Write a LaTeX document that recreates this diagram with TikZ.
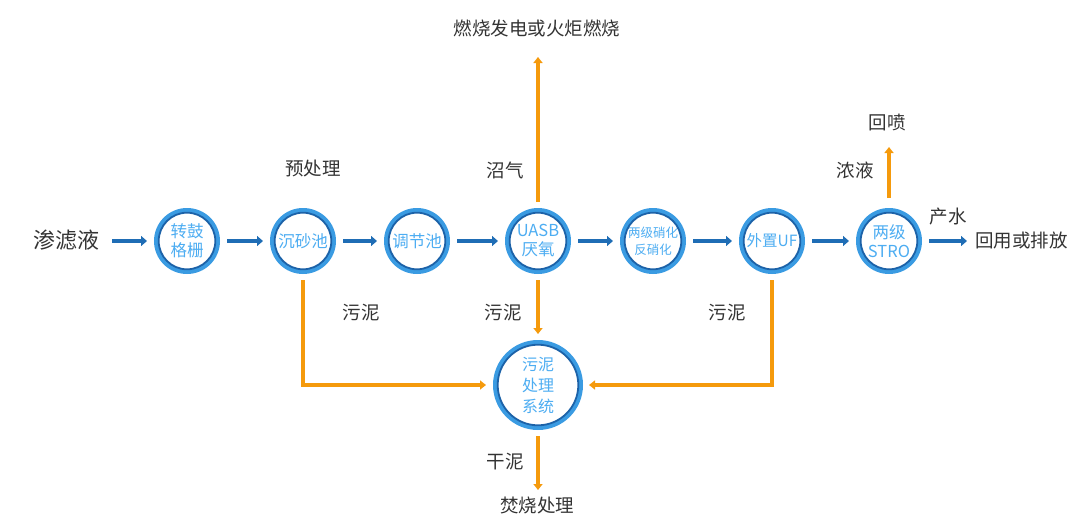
\documentclass[tikz,border=0pt]{standalone}
\usepackage{fontspec}
\setmainfont{Noto Sans CJK SC}
\usetikzlibrary{arrows.meta,calc}
\definecolor{ringlight}{HTML}{3A9BE2}
\definecolor{ringdark}{HTML}{1C62A8}
\definecolor{ntext}{HTML}{4DADF2}
\definecolor{flowblue}{HTML}{1F6DB5}
\definecolor{flowor}{HTML}{F59A0C}
\definecolor{lbl}{HTML}{333333}
\begin{document}
\begin{tikzpicture}[x=1pt,y=-1pt,
  ring/.style={circle,draw=ringlight,line width=4.5pt,fill=white,minimum size=61.5pt,inner sep=0pt,
    text=ntext,align=center,font=\fontsize{16.5}{19}\selectfont},
  bigring/.style={ring,minimum size=85.5pt,font=\fontsize{16}{21}\selectfont},
  lab/.style={text=lbl,font=\fontsize{18.5}{21}\selectfont,inner sep=0pt},
  bflow/.style={draw=flowblue,line width=4pt,-{Triangle[length=6pt,width=10pt]},shorten <=7pt,shorten >=7pt},
  oflow/.style={draw=flowor,line width=3.5pt,-{Triangle[length=6pt,width=9pt]}},
  oline/.style={draw=flowor,line width=3.5pt}
]
\useasboundingbox (0,0) rectangle (1080,528);
% inlet
\node[lab,font=\fontsize{22}{25}\selectfont] (inlet) at (67,240) {渗滤液};
% process nodes
\node[ring] (n1) at (187,241) {转鼓\\格栅};
\node[ring] (n2) at (303,241) {沉砂池};
\node[ring] (n3) at (417,241) {调节池};
\node[ring] (n4) at (538,241) {UASB\\厌氧};
\node[ring,font=\fontsize{12.5}{17}\selectfont] (n5) at (653,241) {两级硝化\\反硝化};
\node[ring,font=\fontsize{15.5}{18}\selectfont] (n6) at (772,241) {外置UF};
\node[ring] (n7) at (889,241) {两级\\STRO};
\node[bigring] (sl) at (538,385) {污泥\\处理\\系统};
% inner dark rings
\foreach \n in {n1,n2,n3,n4,n5,n6,n7}{\draw[ringdark,line width=1.8pt] (\n.center) circle (28.3pt);}
\draw[ringdark,line width=1.8pt] (sl.center) circle (40.3pt);
% labels
\node[lab] (top) at (537,28) {燃烧发电或火炬燃烧};
\node[lab] (pre) at (313,168) {预处理};
\node[lab] (gas) at (505,170) {沼气};
\node[lab] (s1) at (361,313) {污泥};
\node[lab] (s2) at (503,313) {污泥};
\node[lab] (s3) at (727,313) {污泥};
\node[lab] (dry) at (505,462) {干泥};
\node[lab] (burn) at (537,505) {焚烧处理};
\node[lab] (spray) at (887,123) {回喷};
\node[lab] (conc) at (855,170) {浓液};
\node[lab] (prod) at (948,217) {产水};
\node[lab,anchor=west] (out) at (975,240) {回用或排放};
% blue flow
\draw[bflow,shorten <=12pt] (inlet.east |- n1.west) -- (n1.west);
\draw[bflow] (n1.east) -- (n2.west);
\draw[bflow] (n2.east) -- (n3.west);
\draw[bflow] (n3.east) -- (n4.west);
\draw[bflow] (n4.east) -- (n5.west);
\draw[bflow] (n5.east) -- (n6.west);
\draw[bflow] (n6.east) -- (n7.west);
\draw[bflow,shorten >=8pt] (n7.east) -- (out.west |- n7.east);
% orange flows
\coordinate (gastop) at (538,57);
\draw[oflow,shorten <=6pt] (n4.north) -- (gastop);
\coordinate (spraytop) at (889,147);
\draw[oflow,shorten <=10pt] (n7.north) -- (spraytop);
\draw[oflow,shorten <=6pt,shorten >=6pt] (n4.south) -- (sl.north);
\draw[oflow,shorten <=6pt,shorten >=7pt] (n2.south) |- (sl.west);
\draw[oflow,shorten <=6pt,shorten >=6pt] (n6.south) |- (sl.east);
\coordinate (burntop) at (538,490);
\draw[oflow,shorten <=6pt] (sl.south) -- (burntop);
\end{tikzpicture}
\end{document}
